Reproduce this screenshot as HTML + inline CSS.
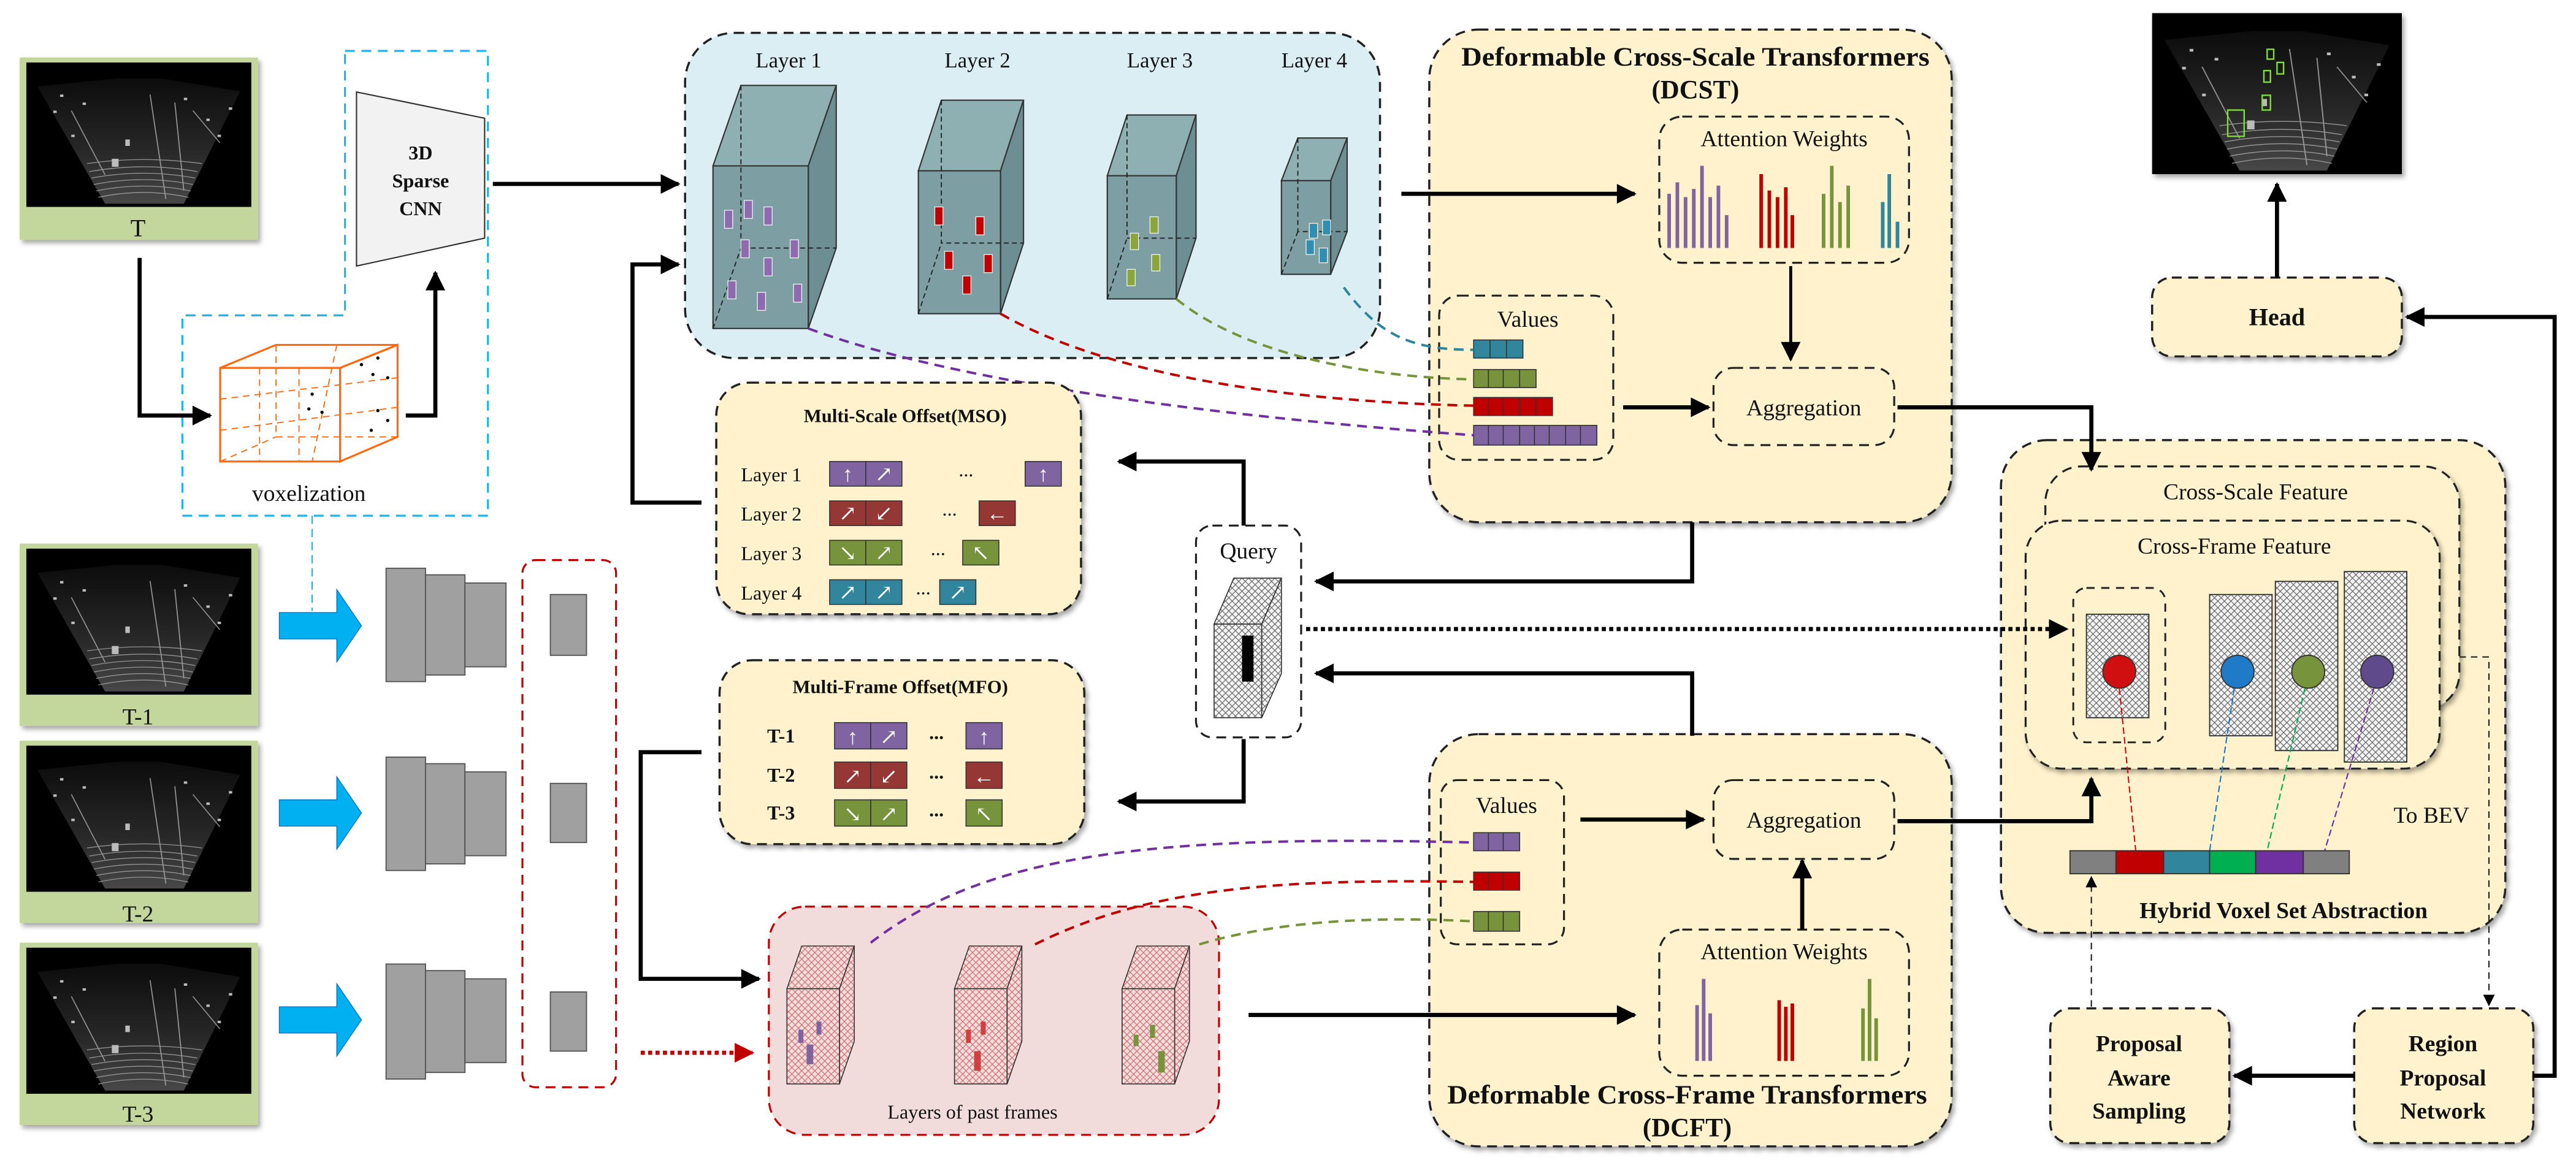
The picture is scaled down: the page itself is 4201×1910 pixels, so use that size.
<!DOCTYPE html>
<html><head><meta charset="utf-8"><style>
html,body{margin:0;padding:0;background:#fff;}
svg{display:block;}
text{font-family:"Liberation Serif","DejaVu Serif",serif;fill:#111;}
</style></head><body>
<svg width="4201" height="1910" viewBox="0 0 1568 713" preserveAspectRatio="none" xmlns="http://www.w3.org/2000/svg" font-family="Liberation Serif, serif">
<defs>
<marker id="ah" viewBox="0 0 10 10" refX="9" refY="5" markerWidth="14" markerHeight="12" markerUnits="userSpaceOnUse" orient="auto"><path d="M0,0 L10,5 L0,10 z" fill="#000"/></marker>
<marker id="ahr" viewBox="0 0 10 10" refX="9" refY="5" markerWidth="14" markerHeight="12" markerUnits="userSpaceOnUse" orient="auto"><path d="M0,0 L10,5 L0,10 z" fill="#c00000"/></marker>
<marker id="ahs" viewBox="0 0 10 10" refX="9" refY="5" markerWidth="7" markerHeight="7" markerUnits="userSpaceOnUse" orient="auto"><path d="M0,0 L10,5 L0,10 z" fill="#000"/></marker>
<pattern id="hatch" width="4" height="4" patternUnits="userSpaceOnUse"><rect width="4" height="4" fill="#f4f4f4"/><path d="M0,0 L4,4 M4,0 L0,4" stroke="#666" stroke-width="0.45"/></pattern>
<pattern id="hatchp" width="4" height="4" patternUnits="userSpaceOnUse"><rect width="4" height="4" fill="#f6dcdc"/><path d="M0,0 L4,4 M4,0 L0,4" stroke="#c87070" stroke-width="0.45"/></pattern>
<linearGradient id="fan" x1="0" y1="0" x2="0" y2="1"><stop offset="0" stop-color="#111"/><stop offset="0.6" stop-color="#3a3a3a"/><stop offset="1" stop-color="#666"/></linearGradient>
<filter id="sh" x="-10%" y="-10%" width="130%" height="130%"><feDropShadow dx="1.5" dy="2" stdDeviation="1.5" flood-color="#000" flood-opacity="0.35"/></filter>
<symbol id="lidar" viewBox="0 0 100 90" preserveAspectRatio="none">
<rect width="100" height="90" fill="#000"/>
<path d="M5,15 L40,10 L60,10 L95,18 L70,88 L35,88 Z" fill="url(#fan)" opacity="0.7"/>
<g stroke="#aaa" stroke-width="0.5" fill="none" opacity="0.8">
<path d="M32,84 Q52,78 72,84"/><path d="M31,80 Q52,74 73,80"/><path d="M30,76 Q52,70 74,76"/><path d="M29,72 Q52,66 75,72"/><path d="M28,68 Q52,62 76,68"/><path d="M27,63 Q52,58 78,63"/>
<path d="M55,20 L62,85"/><path d="M66,25 L70,80"/><path d="M74,30 L86,50"/><path d="M20,30 L35,70"/>
</g>
<g fill="#bbb"><rect x="38" y="60" width="3" height="5"/><rect x="44" y="48" width="2" height="4"/><rect x="12" y="30" width="1.5" height="1.5"/><rect x="80" y="35" width="1.5" height="1.5"/><rect x="20" y="45" width="1.5" height="1.5"/><rect x="85" y="45" width="1.5" height="1.5"/><rect x="25" y="25" width="1.5" height="1.5"/><rect x="70" y="22" width="1.5" height="1.5"/><rect x="15" y="20" width="1.5" height="1.5"/><rect x="90" y="28" width="1.5" height="1.5"/></g>
</symbol>
</defs>

<g filter="url(#sh)">
<rect x="12" y="35" width="145" height="111" fill="#c3d69b"/>
<rect x="12" y="331" width="145" height="111" fill="#c3d69b"/>
<rect x="12" y="451" width="145" height="111" fill="#c3d69b"/>
<rect x="12" y="574" width="145" height="111" fill="#c3d69b"/>
</g>
<use href="#lidar" x="16" y="38" width="137" height="88"/>
<use href="#lidar" x="16" y="334" width="137" height="89"/>
<use href="#lidar" x="16" y="454" width="137" height="89"/>
<use href="#lidar" x="16" y="577" width="137" height="89"/>
<text x="84" y="144" font-size="15" text-anchor="middle">T</text>
<text x="84" y="441" font-size="14" text-anchor="middle">T-1</text>
<text x="84" y="561" font-size="14" text-anchor="middle">T-2</text>
<text x="84" y="683" font-size="14" text-anchor="middle">T-3</text>

<path d="M210,31 H297 V314 H111 V192 H210 Z" fill="none" stroke="#1fb5ec" stroke-width="1.2" stroke-dasharray="6,4"/>
<line x1="190" y1="314" x2="190" y2="372" stroke="#1fb5ec" stroke-width="0.8" stroke-dasharray="5,3"/>
<polygon points="217,56 295,72 295,145 217,162" fill="#f2f2f2" stroke="#333" stroke-width="0.8"/>
<text x="256" y="97" font-size="12" font-weight="bold" text-anchor="middle">3D</text>
<text x="256" y="114" font-size="12" font-weight="bold" text-anchor="middle">Sparse</text>
<text x="256" y="131" font-size="12" font-weight="bold" text-anchor="middle">CNN</text>
<g stroke="#ff6a10" fill="none" stroke-width="1.2">
<rect x="134" y="224" width="73" height="57"/>
<polygon points="134,224 168,210 242,210 207,224"/>
<polygon points="207,224 242,210 242,266 207,281"/>
<g stroke-width="0.7" stroke-dasharray="4,3"><line x1="134" y1="243" x2="242" y2="230"/><line x1="134" y1="262" x2="242" y2="248"/><line x1="158" y1="224" x2="158" y2="281"/><line x1="182" y1="224" x2="182" y2="281"/><line x1="168" y1="210" x2="168" y2="266"/><line x1="205" y1="210" x2="190" y2="281"/><line x1="134" y1="281" x2="168" y2="266"/><line x1="168" y1="266" x2="242" y2="266"/></g>
</g>
<g fill="#000"><circle cx="220" cy="222" r="1"/><circle cx="230" cy="218" r="1"/><circle cx="227" cy="228" r="1"/><circle cx="236" cy="230" r="1"/><circle cx="190" cy="240" r="1"/><circle cx="188" cy="249" r="1"/><circle cx="196" cy="251" r="1"/><circle cx="230" cy="250" r="1"/><circle cx="236" cy="256" r="1"/><circle cx="226" cy="262" r="1"/></g>
<text x="188" y="305" font-size="14" text-anchor="middle">voxelization</text>

<g fill="#00b0f0" stroke="#0070c0" stroke-width="0.5">
<polygon points="170,373 205,373 205,359 220,381 205,403 205,389 170,389"/>
<polygon points="170,487 205,487 205,473 220,495 205,517 205,503 170,503"/>
<polygon points="170,613 205,613 205,599 220,621 205,643 205,629 170,629"/>
</g>
<g fill="#a0a0a0" stroke="#555" stroke-width="0.7">
<rect x="235" y="346" width="24" height="69"/><rect x="259" y="350" width="24" height="61"/><rect x="283" y="355" width="25" height="51"/>
<rect x="235" y="461" width="24" height="69"/><rect x="259" y="465" width="24" height="61"/><rect x="283" y="470" width="25" height="51"/>
<rect x="235" y="587" width="24" height="70"/><rect x="259" y="591" width="24" height="62"/><rect x="283" y="596" width="25" height="51"/>
<rect x="335" y="362" width="22" height="37"/><rect x="335" y="477" width="22" height="36"/><rect x="335" y="604" width="22" height="36"/>
</g>
<rect x="318" y="341" width="57" height="321" rx="8" fill="none" stroke="#c00000" stroke-width="1.2" stroke-dasharray="6,4"/>

<rect x="417" y="20" width="423" height="198" rx="30" fill="#dbeef4" stroke="#222" stroke-width="1.3" stroke-dasharray="6,4"/>
<g font-size="13" text-anchor="middle"><text x="480" y="41">Layer 1</text><text x="595" y="41">Layer 2</text><text x="706" y="41">Layer 3</text><text x="800" y="41">Layer 4</text></g>
<g stroke="#333" stroke-width="0.8">
<polygon points="434,101 451,52 509,52 492,101" fill="#8fb0b3"/><polygon points="492,101 509,52 509,151 492,200" fill="#6d8f93"/><rect x="434" y="101" width="58" height="99" fill="#7d9fa3"/>
<polygon points="559,104 573,61 623,61 609,104" fill="#8fb0b3"/><polygon points="609,104 623,61 623,148 609,191" fill="#6d8f93"/><rect x="559" y="104" width="50" height="87" fill="#7d9fa3"/>
<polygon points="674,107 686,70 728,70 716,107" fill="#8fb0b3"/><polygon points="716,107 728,70 728,145 716,182" fill="#6d8f93"/><rect x="674" y="107" width="42" height="75" fill="#7d9fa3"/>
<polygon points="780,110 790,84 820,84 810,110" fill="#8fb0b3"/><polygon points="810,110 820,84 820,141 810,167" fill="#6d8f93"/><rect x="780" y="110" width="30" height="57" fill="#7d9fa3"/>
</g>
<g stroke="#222" stroke-width="0.7" stroke-dasharray="3,2" fill="none">
<path d="M451,52 V151 H509 M434,200 L451,151"/>
<path d="M573,61 V148 H623 M559,191 L573,148"/>
<path d="M686,70 V145 H728 M674,182 L686,145"/>
<path d="M790,84 V141 H820 M780,167 L790,141"/>
</g>
<g stroke="#eee" stroke-width="0.5">
<g fill="#8e6bb0"><rect x="441" y="128" width="5" height="11"/><rect x="453" y="122" width="5" height="11"/><rect x="465" y="126" width="5" height="11"/><rect x="451" y="146" width="5" height="11"/><rect x="481" y="146" width="5" height="11"/><rect x="465" y="157" width="5" height="11"/><rect x="443" y="171" width="5" height="11"/><rect x="461" y="178" width="5" height="11"/><rect x="483" y="173" width="5" height="11"/></g>
<g fill="#c00000"><rect x="569" y="126" width="5" height="11"/><rect x="594" y="132" width="5" height="11"/><rect x="575" y="153" width="5" height="11"/><rect x="599" y="155" width="5" height="11"/><rect x="586" y="168" width="5" height="11"/></g>
<g fill="#8aa63a"><rect x="700" y="132" width="5" height="10"/><rect x="688" y="142" width="5" height="10"/><rect x="701" y="155" width="5" height="10"/><rect x="686" y="164" width="5" height="10"/></g>
<g fill="#2e8fb0"><rect x="797" y="136" width="5" height="9"/><rect x="805" y="134" width="5" height="9"/><rect x="795" y="146" width="5" height="9"/><rect x="803" y="151" width="5" height="9"/></g>
</g>

<rect x="870" y="18" width="318" height="300" rx="30" fill="#fff2cc" stroke="#222" stroke-width="1.3" stroke-dasharray="6,4" filter="url(#sh)"/>
<text x="1032" y="40" font-size="16" font-weight="bold" text-anchor="middle" textLength="285" lengthAdjust="spacingAndGlyphs">Deformable Cross-Scale Transformers</text>
<text x="1032" y="60" font-size="16" font-weight="bold" text-anchor="middle">(DCST)</text>
<rect x="1010" y="71" width="152" height="89" rx="14" fill="none" stroke="#222" stroke-width="1.2" stroke-dasharray="6,4"/>
<text x="1086" y="89" font-size="14" text-anchor="middle">Attention Weights</text>
<g stroke-width="2.2">
<g stroke="#8064a2"><line x1="1016" y1="151" x2="1016" y2="118"/><line x1="1021" y1="151" x2="1021" y2="111"/><line x1="1026" y1="151" x2="1026" y2="120"/><line x1="1031" y1="151" x2="1031" y2="115"/><line x1="1036" y1="151" x2="1036" y2="101"/><line x1="1041" y1="151" x2="1041" y2="120"/><line x1="1046" y1="151" x2="1046" y2="113"/><line x1="1051" y1="151" x2="1051" y2="131"/></g>
<g stroke="#c00000"><line x1="1072" y1="151" x2="1072" y2="106"/><line x1="1077" y1="151" x2="1077" y2="116"/><line x1="1082" y1="151" x2="1082" y2="120"/><line x1="1087" y1="151" x2="1087" y2="114"/><line x1="1091" y1="151" x2="1091" y2="131"/></g>
<g stroke="#77933c"><line x1="1110" y1="151" x2="1110" y2="118"/><line x1="1115" y1="151" x2="1115" y2="101"/><line x1="1120" y1="151" x2="1120" y2="123"/><line x1="1125" y1="151" x2="1125" y2="113"/></g>
<g stroke="#31859c"><line x1="1146" y1="151" x2="1146" y2="123"/><line x1="1150" y1="151" x2="1150" y2="106"/><line x1="1155" y1="151" x2="1155" y2="135"/></g>
</g>
<rect x="876" y="180" width="106" height="100" rx="12" fill="none" stroke="#222" stroke-width="1.2" stroke-dasharray="6,4"/>
<text x="930" y="199" font-size="14" text-anchor="middle">Values</text>
<g stroke="#333" stroke-width="0.6">
<rect x="897" y="207" width="30" height="11" fill="#31859c"/><path d="M907,207 V218 M917,207 V218" fill="none"/>
<rect x="897" y="225" width="38" height="11" fill="#77933c"/><path d="M906,225 V236 M915,225 V236 M925,225 V236" fill="none"/>
<rect x="897" y="242" width="48" height="11" fill="#c00000"/><path d="M906,242 V253 M915,242 V253 M925,242 V253 M935,242 V253" fill="none"/>
<rect x="897" y="259" width="75" height="12" fill="#8064a2"/><path d="M906,259 V271 M915,259 V271 M925,259 V271 M934,259 V271 M943,259 V271 M953,259 V271 M962,259 V271" fill="none"/>
</g>
<rect x="1043" y="224" width="110" height="47" rx="12" fill="none" stroke="#222" stroke-width="1.2" stroke-dasharray="6,4"/>
<text x="1098" y="253" font-size="14" text-anchor="middle">Aggregation</text>
<g fill="none" stroke-width="1.5" stroke-dasharray="6,4">
<path d="M492,200 C600,240 800,258 897,265" stroke="#7030a0"/>
<path d="M609,191 C680,232 800,245 897,247" stroke="#c00000"/>
<path d="M716,182 C760,218 840,230 897,231" stroke="#77933c"/>
<path d="M818,175 C840,205 860,213 897,213" stroke="#31859c"/>
</g>

<rect x="436" y="233" width="222" height="141" rx="20" fill="#fff2cc" stroke="#222" stroke-width="1.3" stroke-dasharray="6,4" filter="url(#sh)"/>
<text x="551" y="257" font-size="11.5" font-weight="bold" text-anchor="middle">Multi-Scale Offset(MSO)</text>
<g font-size="12"><text x="451" y="293">Layer 1</text><text x="451" y="317">Layer 2</text><text x="451" y="341">Layer 3</text><text x="451" y="365">Layer 4</text></g>
<g stroke="#333" stroke-width="0.6">
<rect x="505" y="281" width="22" height="15" fill="#8064a2"/><rect x="527" y="281" width="22" height="15" fill="#8064a2"/><rect x="624" y="281" width="22" height="15" fill="#8064a2"/>
<rect x="505" y="305" width="22" height="15" fill="#953735"/><rect x="527" y="305" width="22" height="15" fill="#953735"/><rect x="596" y="305" width="22" height="15" fill="#953735"/>
<rect x="505" y="329" width="22" height="15" fill="#77933c"/><rect x="527" y="329" width="22" height="15" fill="#77933c"/><rect x="586" y="329" width="22" height="15" fill="#77933c"/>
<rect x="505" y="353" width="22" height="15" fill="#31859c"/><rect x="527" y="353" width="22" height="15" fill="#31859c"/><rect x="572" y="353" width="22" height="15" fill="#31859c"/>
</g>
<g font-family="DejaVu Sans" font-size="13" text-anchor="middle">
<text x="516" y="293" style="fill:#fff">↑</text><text x="538" y="293" style="fill:#fff">↗</text><text x="635" y="293" style="fill:#fff">↑</text>
<text x="516" y="317" style="fill:#fff">↗</text><text x="538" y="317" style="fill:#fff">↙</text><text x="607" y="317" style="fill:#fff">←</text>
<text x="516" y="341" style="fill:#fff">↘</text><text x="538" y="341" style="fill:#fff">↗</text><text x="597" y="341" style="fill:#fff">↖</text>
<text x="516" y="365" style="fill:#fff">↗</text><text x="538" y="365" style="fill:#fff">↗</text><text x="583" y="365" style="fill:#fff">↗</text>
</g>
<g font-size="12" text-anchor="middle"><text x="588" y="290">...</text><text x="578" y="314">...</text><text x="571" y="338">...</text><text x="562" y="362">...</text></g>

<rect x="728" y="320" width="64" height="129" rx="10" fill="#fff" stroke="#222" stroke-width="1.2" stroke-dasharray="6,4"/>
<text x="760" y="340" font-size="14" text-anchor="middle">Query</text>
<g stroke="#333" stroke-width="0.6">
<polygon points="739,380 751,352 780,352 768,380" fill="url(#hatch)"/><polygon points="768,380 780,352 780,410 768,437" fill="url(#hatch)"/><rect x="739" y="380" width="29" height="57" fill="url(#hatch)"/>
</g>
<rect x="756" y="387" width="7" height="28" fill="#000"/>

<rect x="438" y="402" width="222" height="112" rx="20" fill="#fff2cc" stroke="#222" stroke-width="1.3" stroke-dasharray="6,4" filter="url(#sh)"/>
<text x="548" y="422" font-size="11.5" font-weight="bold" text-anchor="middle">Multi-Frame Offset(MFO)</text>
<g font-size="12" font-weight="bold"><text x="467" y="452">T-1</text><text x="467" y="476">T-2</text><text x="467" y="499">T-3</text></g>
<g stroke="#333" stroke-width="0.6">
<rect x="508" y="440" width="22" height="16" fill="#8064a2"/><rect x="530" y="440" width="22" height="16" fill="#8064a2"/><rect x="588" y="440" width="22" height="16" fill="#8064a2"/>
<rect x="508" y="464" width="22" height="16" fill="#953735"/><rect x="530" y="464" width="22" height="16" fill="#953735"/><rect x="588" y="464" width="22" height="16" fill="#953735"/>
<rect x="508" y="487" width="22" height="16" fill="#77933c"/><rect x="530" y="487" width="22" height="16" fill="#77933c"/><rect x="588" y="487" width="22" height="16" fill="#77933c"/>
</g>
<g font-family="DejaVu Sans" font-size="13" text-anchor="middle">
<text x="519" y="453" style="fill:#fff">↑</text><text x="541" y="453" style="fill:#fff">↗</text><text x="599" y="453" style="fill:#fff">↑</text>
<text x="519" y="477" style="fill:#fff">↗</text><text x="541" y="477" style="fill:#fff">↙</text><text x="599" y="477" style="fill:#fff">←</text>
<text x="519" y="500" style="fill:#fff">↘</text><text x="541" y="500" style="fill:#fff">↗</text><text x="599" y="500" style="fill:#fff">↖</text>
</g>
<g font-size="12" font-weight="bold" text-anchor="middle"><text x="570" y="450">...</text><text x="570" y="474">...</text><text x="570" y="497">...</text></g>

<rect x="468" y="552" width="274" height="139" rx="22" fill="#f2dcdb" stroke="#c00000" stroke-width="1.2" stroke-dasharray="6,4"/>
<text x="592" y="681" font-size="12" text-anchor="middle">Layers of past frames</text>
<g stroke="#333" stroke-width="0.6">
<polygon points="479,602 488,576 520,576 511,602" fill="url(#hatchp)"/><polygon points="511,602 520,576 520,634 511,660" fill="url(#hatchp)"/><rect x="479" y="602" width="32" height="58" fill="url(#hatchp)"/>
<polygon points="581,602 590,576 622,576 613,602" fill="url(#hatchp)"/><polygon points="613,602 622,576 622,634 613,660" fill="url(#hatchp)"/><rect x="581" y="602" width="32" height="58" fill="url(#hatchp)"/>
<polygon points="683,602 692,576 724,576 715,602" fill="url(#hatchp)"/><polygon points="715,602 724,576 724,634 715,660" fill="url(#hatchp)"/><rect x="683" y="602" width="32" height="58" fill="url(#hatchp)"/>
</g>
<g fill="#8064a2"><rect x="486" y="627" width="3" height="8"/><rect x="497" y="622" width="3" height="8"/><rect x="491" y="636" width="4" height="12"/></g>
<g fill="#d04040"><rect x="588" y="627" width="3" height="8"/><rect x="597" y="622" width="3" height="8"/><rect x="593" y="640" width="4" height="12"/></g>
<g fill="#77933c"><rect x="690" y="630" width="3" height="7"/><rect x="700" y="624" width="3" height="8"/><rect x="705" y="640" width="4" height="13"/></g>

<rect x="870" y="447" width="318" height="251" rx="30" fill="#fff2cc" stroke="#222" stroke-width="1.3" stroke-dasharray="6,4" filter="url(#sh)"/>
<text x="1027" y="672" font-size="16" font-weight="bold" text-anchor="middle" textLength="292" lengthAdjust="spacingAndGlyphs">Deformable Cross-Frame Transformers</text>
<text x="1027" y="692" font-size="16" font-weight="bold" text-anchor="middle">(DCFT)</text>
<rect x="877" y="475" width="75" height="100" rx="10" fill="none" stroke="#222" stroke-width="1.2" stroke-dasharray="6,4"/>
<text x="917" y="495" font-size="14" text-anchor="middle">Values</text>
<g stroke="#333" stroke-width="0.6">
<rect x="897" y="507" width="28" height="11" fill="#8064a2"/><path d="M906,507 V518 M915,507 V518" fill="none"/>
<rect x="897" y="531" width="28" height="11" fill="#c00000"/><path d="M906,531 V542 M915,531 V542" fill="none"/>
<rect x="897" y="555" width="28" height="12" fill="#77933c"/><path d="M906,555 V567 M915,555 V567" fill="none"/>
</g>
<rect x="1043" y="475" width="110" height="48" rx="12" fill="none" stroke="#222" stroke-width="1.2" stroke-dasharray="6,4"/>
<text x="1098" y="504" font-size="14" text-anchor="middle">Aggregation</text>
<rect x="1010" y="566" width="152" height="89" rx="14" fill="none" stroke="#222" stroke-width="1.2" stroke-dasharray="6,4"/>
<text x="1086" y="584" font-size="14" text-anchor="middle">Attention Weights</text>
<g stroke-width="2.2">
<g stroke="#8064a2"><line x1="1033" y1="646" x2="1033" y2="612"/><line x1="1037" y1="646" x2="1037" y2="596"/><line x1="1041" y1="646" x2="1041" y2="617"/></g>
<g stroke="#c00000"><line x1="1083" y1="646" x2="1083" y2="609"/><line x1="1087" y1="646" x2="1087" y2="613"/><line x1="1091" y1="646" x2="1091" y2="611"/></g>
<g stroke="#77933c"><line x1="1134" y1="646" x2="1134" y2="614"/><line x1="1138" y1="646" x2="1138" y2="596"/><line x1="1142" y1="646" x2="1142" y2="620"/></g>
</g>
<g fill="none" stroke-width="1.5" stroke-dasharray="6,4">
<path d="M530,574 C600,520 700,508 897,513" stroke="#7030a0"/>
<path d="M630,575 C700,540 780,535 897,537" stroke="#c00000"/>
<path d="M730,575 C780,560 840,558 897,561" stroke="#77933c"/>
</g>

<rect x="1218" y="268" width="307" height="300" rx="28" fill="#fff2cc" stroke="#222" stroke-width="1.3" stroke-dasharray="6,4" filter="url(#sh)"/>
<rect x="1245" y="284" width="252" height="148" rx="22" fill="#fff2cc" stroke="#222" stroke-width="1.2" stroke-dasharray="6,4" filter="url(#sh)"/>
<text x="1373" y="304" font-size="14" text-anchor="middle">Cross-Scale Feature</text>
<rect x="1233" y="317" width="252" height="151" rx="22" fill="#fff2cc" stroke="#222" stroke-width="1.2" stroke-dasharray="6,4" filter="url(#sh)"/>
<text x="1360" y="337" font-size="14" text-anchor="middle">Cross-Frame Feature</text>
<rect x="1262" y="358" width="56" height="94" rx="8" fill="none" stroke="#222" stroke-width="1.1" stroke-dasharray="5,4"/>
<g stroke="#333" stroke-width="0.7">
<rect x="1270" y="374" width="38" height="63" fill="url(#hatch)"/>
<rect x="1345" y="362" width="38" height="86" fill="url(#hatch)"/>
<rect x="1385" y="354" width="38" height="103" fill="url(#hatch)"/>
<rect x="1427" y="348" width="38" height="116" fill="url(#hatch)"/>
<ellipse cx="1290" cy="409" rx="10" ry="10" fill="#d01010"/>
<ellipse cx="1362" cy="409" rx="10" ry="10" fill="#1f7ac8"/>
<ellipse cx="1405" cy="409" rx="10" ry="10" fill="#77933c"/>
<ellipse cx="1447" cy="409" rx="10" ry="10" fill="#5f4b8b"/>
</g>
<g stroke-width="0.8" stroke-dasharray="4,2" fill="none">
<line x1="1290" y1="419" x2="1300" y2="518" stroke="#d01010"/>
<line x1="1360" y1="419" x2="1345" y2="518" stroke="#1f7ac8"/>
<line x1="1403" y1="419" x2="1380" y2="518" stroke="#00b050"/>
<line x1="1445" y1="419" x2="1415" y2="518" stroke="#7030a0"/>
</g>
<g stroke="#333" stroke-width="0.7">
<rect x="1260" y="518" width="28" height="14" fill="#808080"/><rect x="1288" y="518" width="29" height="14" fill="#c00000"/><rect x="1317" y="518" width="28" height="14" fill="#31859c"/><rect x="1345" y="518" width="28" height="14" fill="#00b050"/><rect x="1373" y="518" width="29" height="14" fill="#7030a0"/><rect x="1402" y="518" width="28" height="14" fill="#808080"/>
</g>
<text x="1480" y="501" font-size="14" text-anchor="middle">To BEV</text>
<text x="1390" y="559" font-size="14" font-weight="bold" text-anchor="middle">Hybrid Voxel Set Abstraction</text>

<rect x="1248" y="614" width="109" height="82" rx="12" fill="#fff2cc" stroke="#222" stroke-width="1.3" stroke-dasharray="6,4" filter="url(#sh)"/>
<g font-size="14" font-weight="bold" text-anchor="middle"><text x="1302" y="640">Proposal</text><text x="1302" y="661">Aware</text><text x="1302" y="681">Sampling</text></g>
<rect x="1433" y="614" width="109" height="82" rx="12" fill="#fff2cc" stroke="#222" stroke-width="1.3" stroke-dasharray="6,4" filter="url(#sh)"/>
<g font-size="14" font-weight="bold" text-anchor="middle"><text x="1487" y="640">Region</text><text x="1487" y="661">Proposal</text><text x="1487" y="681">Network</text></g>
<rect x="1310" y="169" width="152" height="48" rx="12" fill="#fff2cc" stroke="#222" stroke-width="1.3" stroke-dasharray="6,4" filter="url(#sh)"/>
<text x="1386" y="198" font-size="15" font-weight="bold" text-anchor="middle">Head</text>
<g filter="url(#sh)"><rect x="1310" y="8" width="152" height="98" fill="#000"/></g>
<use href="#lidar" x="1310" y="8" width="152" height="98"/>
<g fill="none" stroke="#7fdc3a" stroke-width="0.9">
<rect x="1380" y="30" width="4" height="6"/><rect x="1386" y="38" width="4" height="7"/><rect x="1378" y="43" width="4" height="7"/><rect x="1377" y="58" width="5" height="9"/><rect x="1356" y="67" width="10" height="16"/>
</g>

<g stroke="#000" stroke-width="2.5" fill="none">
<path d="M85,157 V253 H128" marker-end="url(#ah)"/>
<path d="M247,253 H265 V166" marker-end="url(#ah)"/>
<path d="M300,112 H413" marker-end="url(#ah)"/>
<path d="M427,306 H385 V161 H413" marker-end="url(#ah)"/>
<path d="M853,118 H995" marker-end="url(#ah)"/>
<path d="M1090,162 V219" marker-end="url(#ah)" stroke-width="1.8"/>
<path d="M988,248 H1040" marker-end="url(#ah)"/>
<path d="M1030,318 V354 H801" marker-end="url(#ah)"/>
<path d="M757,320 V281 H681" marker-end="url(#ah)"/>
<path d="M1030,448 V410 H801" marker-end="url(#ah)"/>
<path d="M757,450 V488 H681" marker-end="url(#ah)"/>
<path d="M427,458 H390 V596 H462" marker-end="url(#ah)"/>
<path d="M760,618 H995" marker-end="url(#ah)"/>
<path d="M1097,566 V524" marker-end="url(#ah)"/>
<path d="M962,499 H1037" marker-end="url(#ah)"/>
<path d="M1155,248 H1273 V286" marker-end="url(#ah)"/>
<path d="M1155,500 H1273 V474" marker-end="url(#ah)"/>
<path d="M1433,655 H1360" marker-end="url(#ah)"/>
<path d="M1542,655 H1555 V193 H1465" marker-end="url(#ah)"/>
<path d="M1386,169 V112" marker-end="url(#ah)"/>
</g>
<path d="M795,383 H1258" stroke="#000" stroke-width="2.5" stroke-dasharray="2.5,2" fill="none" marker-end="url(#ah)"/>
<path d="M390,641 H458" stroke="#c00000" stroke-width="2.5" stroke-dasharray="2.5,2" fill="none" marker-end="url(#ahr)"/>
<path d="M1497,400 H1515 V612" fill="none" stroke="#222" stroke-width="0.8" stroke-dasharray="4,3" marker-end="url(#ahs)"/>
<path d="M1273,613 V534" fill="none" stroke="#222" stroke-width="0.8" stroke-dasharray="4,3" marker-end="url(#ahs)"/>
</svg>
</body></html>
